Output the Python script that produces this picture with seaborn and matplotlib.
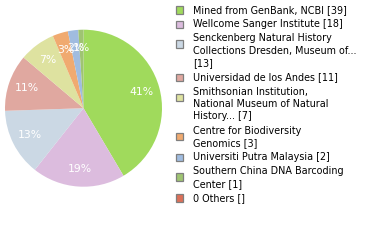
import matplotlib
matplotlib.use("Agg")
import matplotlib.pyplot as plt
from matplotlib.patches import Rectangle
import seaborn as sns

# ---- data ----
institutions = [
    "Mined from GenBank, NCBI",
    "Wellcome Sanger Institute",
    "Senckenberg Natural History\nCollections Dresden, Museum of...",
    "Universidad de los Andes",
    "Smithsonian Institution,\nNational Museum of Natural\nHistory...",
    "Centre for Biodiversity\nGenomics",
    "Universiti Putra Malaysia",
    "Southern China DNA Barcoding\nCenter",
]
counts = [39, 18, 13, 11, 7, 3, 2, 1]
others_label = "0 Others []"
colors = ["#a0da5c", "#dcbcde", "#cbd8e4", "#e0a8a0", "#dee2a0",
          "#f0aa70", "#a0bce0", "#9fc472", "#dc7058"]

sns.set_style("white")
palette = sns.color_palette(colors)

fig = plt.figure(figsize=(3.8, 2.4), dpi=100)

# pie axes (pixel-based placement)
cx, cy, r = 83.5, 108.2, 78.5
ax = fig.add_axes([(cx - r) / 380, (240 - cy - r) / 240, 2 * r / 380, 2 * r / 240])
ax.pie(counts, colors=palette[:len(counts)], startangle=90, counterclock=False,
       autopct=lambda p: f"{int(p)}%", pctdistance=0.77,
       wedgeprops=dict(linewidth=0),
       textprops=dict(color="white", fontsize=7.8, family="DejaVu Sans"))
ax.set_xlim(-1, 1)
ax.set_ylim(-1, 1)
ax.set_aspect("auto")
ax.axis("off")

# legend drawn in pixel coordinates
lg = fig.add_axes([0, 0, 1, 1])
lg.set_xlim(0, 380)
lg.set_ylim(240, 0)
lg.axis("off")

labels = []
for name, c in zip(institutions, counts):
    if name.startswith("Senckenberg"):
        labels.append(f"{name}\n[{c}]")
    else:
        labels.append(f"{name} [{c}]")
labels.append(others_label)

L = 12.4
gap = 14.2
y = 10.0
for i, lab in enumerate(labels):
    lines = lab.split("\n")
    n = len(lines)
    sq_c = y if n == 1 else y + 5.5
    lg.add_patch(Rectangle((175.5, sq_c - 3.6), 7.2, 7.2, facecolor=palette[i],
                           edgecolor="#7f7f7f", linewidth=0.9))
    for k, line in enumerate(lines):
        lg.text(193, y + k * L, line, fontsize=6.9, va="center", ha="left",
                color="#000000", family="DejaVu Sans")
    y += (n - 1) * L + gap

fig.savefig("out.png", dpi=100)
